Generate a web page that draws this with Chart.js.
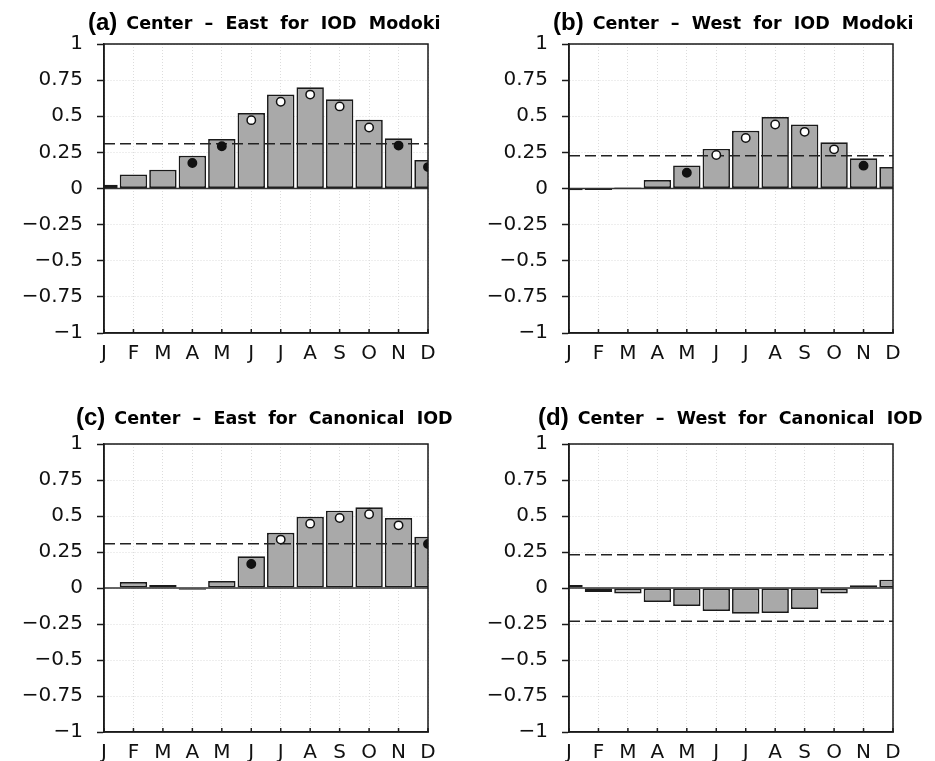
<!DOCTYPE html>
<html>
<head>
<meta charset="utf-8">
<title>Center minus East/West</title>
<script src="https://cdn.jsdelivr.net/npm/chart.js@4.4.1/dist/chart.umd.min.js"></script>
<style>
  html, body { margin: 0; padding: 0; background: #fff; }
  #wrap { position: relative; width: 935px; height: 761px; }
  #wrap canvas { position: absolute; left: 0; top: 0; }
</style>
</head>
<body>
<div id="wrap">
  <canvas id="panelA" width="935" height="761"></canvas>
  <canvas id="panelB" width="935" height="761"></canvas>
  <canvas id="panelC" width="935" height="761"></canvas>
  <canvas id="panelD" width="935" height="761"></canvas>
</div>
<script>
var months = ['J', 'F', 'M', 'A', 'M', 'J', 'J', 'A', 'S', 'O', 'N', 'D'];

// (a) Center - East for IOD Modoki
var barsA = [0.026, 0.097, 0.13, 0.227, 0.343, 0.522, 0.65, 0.70, 0.617, 0.476, 0.348, 0.197];
var dotsA = [null, null, null, 0.176, 0.292, 0.473, 0.60, 0.65, 0.568, 0.422, 0.297, 0.148];
var sigA = [0.309];

// (b) Center - West for IOD Modoki
var barsB = [-0.012, -0.01, 0.007, 0.058, 0.16, 0.274, 0.40, 0.494, 0.443, 0.32, 0.209, 0.148];
var dotsB = [null, null, null, null, 0.109, 0.232, 0.35, 0.443, 0.392, 0.271, 0.158, null];
var sigB = [0.227];

// (c) Center - East for Canonical IOD
var barsC = [0, 0.042, 0.021, -0.012, 0.049, 0.22, 0.384, 0.495, 0.537, 0.56, 0.486, 0.356];
var dotsC = [null, null, null, null, null, 0.167, 0.336, 0.447, 0.486, 0.512, 0.435, 0.306];
var sigC = [0.308];

// (d) Center - West for Canonical IOD
var barsD = [0.021, -0.028, -0.039, -0.097, -0.125, -0.16, -0.178, -0.174, -0.146, -0.039, 0.019, 0.058];
var sigD = [0.231, -0.231];

var W = 935, H = 761;
var ink = '#1a1a1a';

// zero line, dashed significance lines, frame, inner x ticks and the panel title
var panelDecor = {
    id: 'panelDecor',
    afterDatasetDraw: function (chart, args, opts) {
        if (args.meta.type !== 'bar') return;
        var ctx = chart.ctx, a = chart.chartArea, y = chart.scales.y;
        ctx.save();
        ctx.beginPath();
        ctx.rect(a.left, a.top, a.right - a.left, a.bottom - a.top);
        ctx.clip();
        ctx.strokeStyle = '#333';
        ctx.lineWidth = 1.5;
        var y0 = y.getPixelForValue(0);
        ctx.beginPath();
        ctx.moveTo(a.left, y0);
        ctx.lineTo(a.right, y0);
        ctx.stroke();
        ctx.setLineDash([11, 5]);
        ctx.strokeStyle = '#222';
        opts.levels.forEach(function (v) {
            var py = y.getPixelForValue(v);
            ctx.beginPath();
            ctx.moveTo(a.left, py);
            ctx.lineTo(a.right, py);
            ctx.stroke();
        });
        ctx.restore();
    },
    afterDraw: function (chart, args, opts) {
        var ctx = chart.ctx, a = chart.chartArea, x = chart.scales.x;
        ctx.save();
        ctx.strokeStyle = ink;
        ctx.lineWidth = 1.5;
        ctx.strokeRect(a.left, a.top, a.right - a.left, a.bottom - a.top);
        for (var i = 0; i < months.length; i++) {
            var px = x.getPixelForTick(i);
            ctx.beginPath();
            ctx.moveTo(px, a.bottom);
            ctx.lineTo(px, a.bottom - 4);
            ctx.stroke();
        }
        ctx.fillStyle = '#000';
        ctx.textBaseline = 'middle';
        ctx.textAlign = 'left';
        ctx.font = 'bold 24px "Liberation Sans"';
        ctx.fillText(opts.tag, opts.x, opts.y);
        var w = ctx.measureText(opts.tag).width;
        ctx.font = 'bold 17.5px "DejaVu Sans"';
        ctx.fillText(opts.text, opts.x + w + 9, opts.y + 1);
        ctx.restore();
    }
};

function fmt(v) {
    if (v === 0) return '0';
    return (v < 0 ? '\u2212' : '') + Math.abs(v);
}

function makePanel(id, bars, dots, levels, box, title) {
    var datasets = [{
        type: 'bar',
        data: bars,
        backgroundColor: '#a9a9a9',
        borderColor: ink,
        borderWidth: 1.7,
        borderSkipped: false,
        barPercentage: 0.93,
        categoryPercentage: 1,
        clip: 0,
        order: 2
    }];
    if (dots) {
        datasets.push({
            type: 'line',
            data: dots,
            showLine: false,
            pointRadius: 4.2,
            pointHoverRadius: 4.2,
            pointBorderWidth: 1.5,
            pointBorderColor: '#111',
            pointBackgroundColor: function (c) {
                return c.raw > levels[0] ? '#fff' : '#111';
            },
            clip: 0,
            order: 1
        });
    }
    return new Chart(document.getElementById(id), {
        type: 'bar',
        data: { labels: months, datasets: datasets },
        options: {
            responsive: false,
            animation: false,
            events: [],
            layout: {
                padding: { left: 0, right: W - box.right, top: box.top, bottom: 0 }
            },
            plugins: {
                legend: { display: false },
                tooltip: { enabled: false },
                title: { display: false },
                panelDecor: { levels: levels, tag: title.tag, text: title.text, x: title.x, y: title.y }
            },
            scales: {
                x: {
                    offset: false,
                    grid: { offset: false, color: '#dcdcdc', drawTicks: false },
                    border: { display: true, color: ink, width: 1.5, dash: [1, 2] },
                    ticks: {
                        padding: 9,
                        color: '#111',
                        autoSkip: false,
                        maxRotation: 0,
                        font: { family: 'DejaVu Sans', size: 20 }
                    },
                    afterFit: function (s) { s.height = H - box.bottom; }
                },
                y: {
                    min: -1,
                    max: 1,
                    grid: { color: '#dcdcdc', tickColor: ink, tickLength: 7, tickWidth: 1.5 },
                    border: { display: true, color: ink, width: 1.5, dash: [1, 2] },
                    ticks: {
                        stepSize: 0.25,
                        padding: 14,
                        color: '#111',
                        font: { family: 'DejaVu Sans', size: 20 },
                        callback: fmt
                    },
                    afterFit: function (s) { s.width = box.left; }
                }
            }
        },
        plugins: [panelDecor]
    });
}

makePanel('panelA', barsA, dotsA, sigA,
    { left: 104, right: 428, top: 44, bottom: 333 },
    { tag: '(a)', text: 'Center  \u2013  East  for  IOD  Modoki', x: 88, y: 23 });
makePanel('panelB', barsB, dotsB, sigB,
    { left: 569, right: 893, top: 44, bottom: 333 },
    { tag: '(b)', text: 'Center  \u2013  West  for  IOD  Modoki', x: 553, y: 23 });
makePanel('panelC', barsC, dotsC, sigC,
    { left: 104, right: 428, top: 444, bottom: 732 },
    { tag: '(c)', text: 'Center  \u2013  East  for  Canonical  IOD', x: 76, y: 418 });
makePanel('panelD', barsD, null, sigD,
    { left: 569, right: 893, top: 444, bottom: 732 },
    { tag: '(d)', text: 'Center  \u2013  West  for  Canonical  IOD', x: 538, y: 418 });
</script>
</body>
</html>
